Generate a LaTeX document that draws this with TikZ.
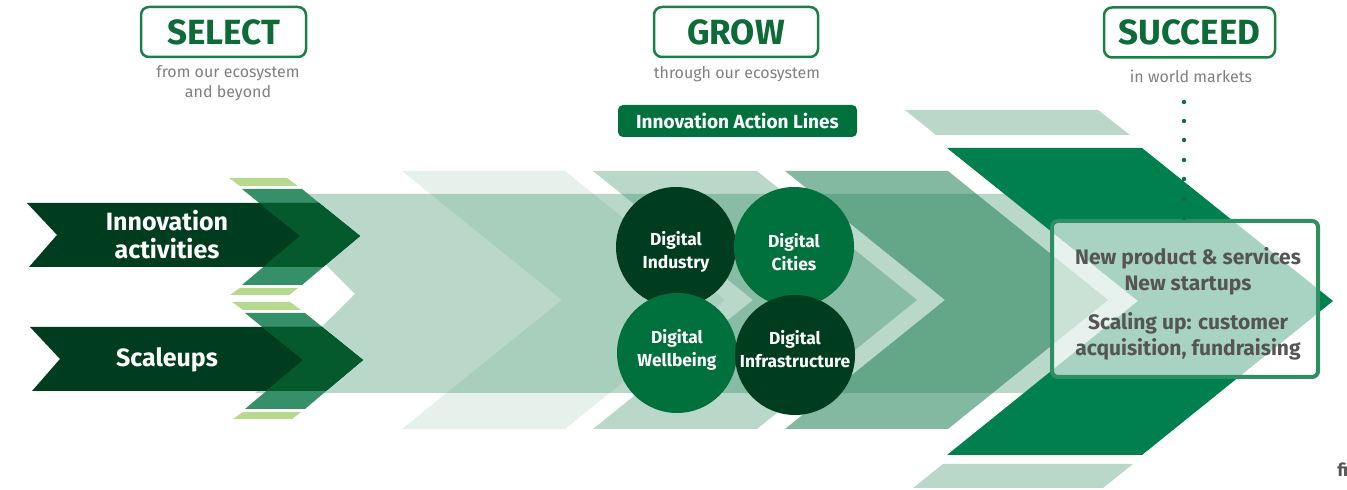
\documentclass[tikz,border=0pt]{standalone}
\usepackage{fontspec}
\setmainfont{Fira Sans}

\definecolor{basegreen}{RGB}{25,125,80}
\definecolor{deepgreen}{RGB}{0,128,79}
\definecolor{darkgreen}{RGB}{0,61,31}
\definecolor{arrowgreen}{RGB}{4,89,45}
\definecolor{midgreen}{RGB}{53,144,106}
\definecolor{limegreen}{RGB}{183,217,142}
\definecolor{circlegreen}{RGB}{0,112,60}
\definecolor{titlegreen}{RGB}{12,107,55}
\definecolor{framegreen}{RGB}{27,128,69}
\definecolor{boxgreen}{RGB}{46,143,99}
\definecolor{subgray}{RGB}{128,128,128}
\definecolor{textgray}{RGB}{85,85,85}
\definecolor{dotgreen}{RGB}{15,110,64}

\tikzset{
  titlebox/.style={draw=framegreen, line width=1.25pt, rounded corners=4pt, inner sep=0pt,
    text=titlegreen, font=\fontsize{17.5}{19}\selectfont\bfseries, minimum height=25pt},
  subtitle/.style={inner sep=0pt, text=subgray, align=center, font=\fontsize{8}{9.8}\selectfont},
  actionbox/.style={fill=circlegreen, rounded corners=2.5pt, inner sep=0pt, text=white,
    minimum width=119.5pt, minimum height=16pt, font=\fontsize{9.5}{11}\selectfont\bfseries},
  arrowtext/.style={inner sep=0pt, text=white, align=center, font=\fontsize{12.5}{14}\selectfont\bfseries},
  disc/.style={circle, minimum size=60pt, inner sep=0pt},
  disctext/.style={inner sep=0pt, text=white, align=center, font=\fontsize{8.7}{11.3}\selectfont\bfseries},
  boxtext/.style={inner sep=0pt, text=textgray, align=center, font=\fontsize{10.5}{13}\selectfont\bfseries},
}

\begin{document}
\begin{tikzpicture}[x=0.5pt,y=-0.5pt]
\useasboundingbox (0,0) rectangle (1347,490);

% long band behind everything
\fill [basegreen, fill opacity=0.3] (255,194) -- (1198,194) -- (1317,294) -- (1198,393) -- (255,393) -- (355,294) -- cycle;

% chevrons, lighter to darker
\fill [basegreen, fill opacity=0.11] (402,171) -- (565,171) -- (725,300) -- (565,429) -- (402,429) -- (562,300) -- cycle;
\fill [basegreen, fill opacity=0.3] (593,171) -- (757,171) -- (917,300) -- (757,429) -- (593,429) -- (753,300) -- cycle;
\fill [basegreen, fill opacity=0.54] (785,171) -- (948,171) -- (1108,300) -- (948,429) -- (785,429) -- (945,300) -- cycle;
\fill [deepgreen] (947,148) -- (1142,148) -- (1333,301) -- (1142,455) -- (947,455) -- (1138,301) -- cycle;

% thin strips above and below
\fill [basegreen, fill opacity=0.3] (905,110) -- (1098,110) -- (1130,135) -- (936,135) -- cycle;
\fill [basegreen, fill opacity=0.3] (943,464) -- (1133,464) -- (1103,488) -- (913,488) -- cycle;

% the two input arrows
\foreach \gx/\gy in {0/0,3/124} {
\begin{scope}[shift={(\gx,\gy)}]
\fill [limegreen] (229,178) -- (287,178) -- (298,186) -- (240,186) -- cycle;
\fill [limegreen] (240,288) -- (298,288) -- (289,295) -- (230,295) -- cycle;
\fill [midgreen] (242,189) -- (302,189) -- (360,236) -- (302,285) -- (242,285) -- (300,236) -- cycle;
\fill [darkgreen] (27,203) -- (319,203) -- (360,236) -- (323,267) -- (29,267) -- (57,235) -- cycle;
\fill [arrowgreen] (259,203) -- (319,203) -- (360,236) -- (323,267) -- (263,267) -- (300,236) -- cycle;
\end{scope}
}
\node [arrowtext] (innov) at (167,235) {Innovation\\activities};
\node [arrowtext] (scale) at (167,360) {Scaleups};

% action lines
\node [disc, fill=darkgreen] (industry) at (676,247) {};
\node [disc, fill=circlegreen] (cities) at (794,247) {};
\node [disc, fill=circlegreen] (wellbeing) at (677,353) {};
\node [disc, fill=darkgreen] (infra) at (795,355) {};
\node [disctext] (industrytext) at (676,252) {Digital\\Industry};
\node [disctext] (citiestext) at (794,252) {Digital\\Cities};
\node [disctext] (wellbeingtext) at (677,350) {Digital\\Wellbeing};
\node [disctext] (infratext) at (795,349) {Digital\\Infrastructure};
\node [actionbox] (lines) at (737.5,121) {Innovation Action Lines};

% results box
\draw [boxgreen, line width=2pt, rounded corners=3pt, fill=white, fill opacity=0.66] (1052,221) rectangle (1318,377);
\node [boxtext] (newprod) at (1188,271) {New product \& services\\New startups};
\node [boxtext] (scaling) at (1188,336) {Scaling up: customer\\acquisition, fundraising};

% dotted line under SUCCEED
\fill [dotgreen] (1184,102) circle (2.2);
\fill [dotgreen] (1184,121) circle (2.2);
\fill [dotgreen] (1184,140) circle (2.2);
\fill [dotgreen] (1184,160) circle (2.2);
\fill [dotgreen] (1184,179) circle (2.2);
\fill [dotgreen] (1184,199) circle (2.2);
\fill [dotgreen] (1184,218) circle (2.2);

% headings
\node [titlebox, minimum width=82.5pt] (select) at (223.5,32) {SELECT};
\node [subtitle] (selectsub) at (228,83) {from our ecosystem\\and beyond};
\node [titlebox, minimum width=82pt] (grow) at (736,32) {GROW};
\node [subtitle] (growsub) at (737,74) {through our ecosystem};
\node [titlebox, minimum width=85.5pt] (succeed) at (1189.5,32.5) {SUCCEED};
\node [subtitle] (succeedsub) at (1191,76) {in world markets};

\node [anchor=west, inner sep=0pt, text=textgray, font=\fontsize{9}{10}\selectfont\bfseries] (fi) at (1337,470) {fi};
\end{tikzpicture}
\end{document}
